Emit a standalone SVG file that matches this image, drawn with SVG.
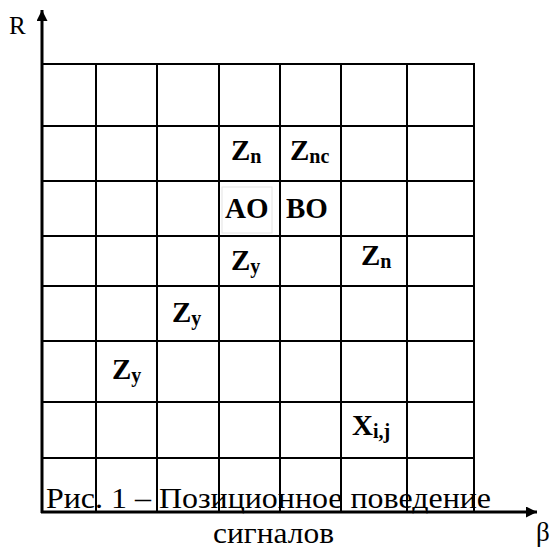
<svg xmlns="http://www.w3.org/2000/svg" width="550" height="548" viewBox="0 0 550 548">
  <style>
    .grid line { stroke: #000; stroke-width: 2; }
    .axis { stroke: #000; stroke-width: 3; fill: none; }
    text { font-family: 'Liberation Serif', Tinos, 'Noto Serif', FreeSerif, 'DejaVu Serif', Times, serif; fill: #000; }
    .lbl { font-weight: bold; font-size: 29px; }
    .sub { font-size: 20px; }
    .cap { font-size: 29px; }
  </style>
  <defs>
    <marker id="arrow" markerUnits="userSpaceOnUse" markerWidth="12" markerHeight="12" refX="11" refY="5.5" orient="auto">
      <path d="M0,0 L11,5.5 L0,11 z" fill="#000"/>
    </marker>
  </defs>
  <rect width="550" height="548" fill="#fff"/>

  <g id="grid" class="grid">
    <line x1="96" y1="64" x2="96" y2="512"/>
    <line x1="157" y1="64" x2="157" y2="512"/>
    <line x1="219" y1="64" x2="219" y2="512"/>
    <line x1="280" y1="64" x2="280" y2="512"/>
    <line x1="341" y1="64" x2="341" y2="512"/>
    <line x1="407" y1="64" x2="407" y2="512"/>
    <line x1="474" y1="63" x2="474" y2="512"/>
    <line x1="42" y1="64" x2="475" y2="64"/>
    <line x1="42" y1="126" x2="474" y2="126"/>
    <line x1="42" y1="181" x2="474" y2="181"/>
    <line x1="42" y1="236" x2="474" y2="236"/>
    <line x1="42" y1="286" x2="474" y2="286"/>
    <line x1="42" y1="341" x2="474" y2="341"/>
    <line x1="42" y1="402" x2="474" y2="402"/>
    <line x1="42" y1="458" x2="474" y2="458"/>
  </g>

  <g id="connectors">
    <line class="axis" x1="42" y1="513" x2="42" y2="10" marker-end="url(#arrow)"/>
    <line class="axis" x1="41" y1="512" x2="537" y2="512" marker-end="url(#arrow)"/>
  </g>

  <g id="axis-labels">
    <text x="9" y="34" font-size="25">R</text>
    <text x="536" y="541" font-size="27">β</text>
  </g>

  <g id="node-zn-1"><text class="lbl" x="231" y="160">Z<tspan class="sub" dy="3">n</tspan></text></g>
  <g id="node-znc"><text class="lbl" x="290" y="160">Z<tspan class="sub" dy="3">nc</tspan></text></g>
  <g id="node-ao">
    <rect x="222" y="187" width="50" height="46" fill="none" stroke="#e4e4e4" stroke-width="1"/>
    <text class="lbl" x="225" y="218">AO</text>
  </g>
  <g id="node-bo"><text class="lbl" x="286" y="218">BO</text></g>
  <g id="node-zy-1"><text class="lbl" x="231" y="270">Z<tspan class="sub" dy="3">y</tspan></text></g>
  <g id="node-zn-2"><text class="lbl" x="361" y="265">Z<tspan class="sub" dy="3">n</tspan></text></g>
  <g id="node-zy-2"><text class="lbl" x="172" y="322">Z<tspan class="sub" dy="3">y</tspan></text></g>
  <g id="node-zy-3"><text class="lbl" x="112" y="379">Z<tspan class="sub" dy="3">y</tspan></text></g>
  <g id="node-xij"><text class="lbl" x="352" y="435">X<tspan class="sub" dy="3">i,j</tspan></text></g>

  <g id="caption">
    <text class="cap" x="46" y="508" textLength="445" lengthAdjust="spacingAndGlyphs">Рис. 1 – Позиционное поведение</text>
    <text class="cap" x="213" y="543" textLength="121" lengthAdjust="spacingAndGlyphs">сигналов</text>
  </g>
</svg>
